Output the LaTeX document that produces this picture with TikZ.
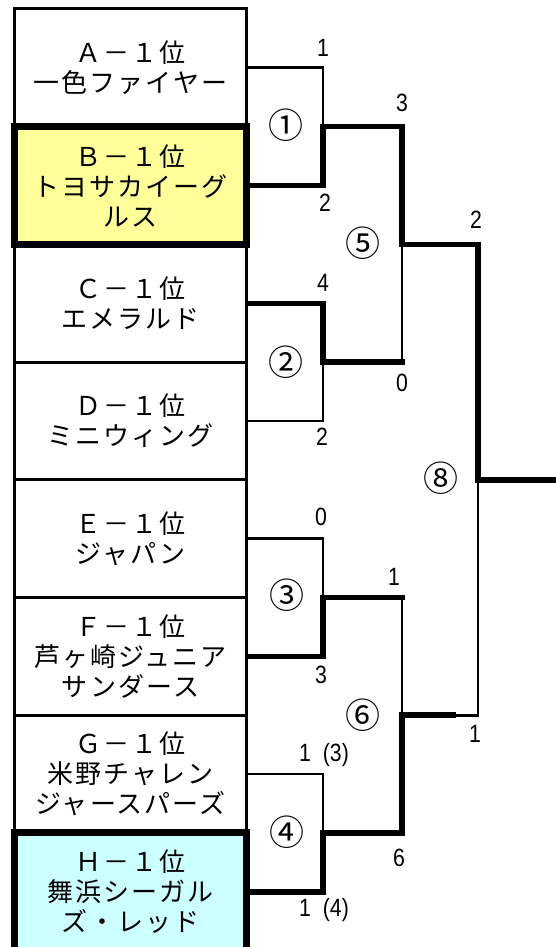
\documentclass[tikz,border=0pt]{standalone}
\usepackage{fontspec}
\setmainfont{Liberation Sans}
\newfontfamily\scorefont[FakeStretch=0.85]{Liberation Sans}
\newfontfamily\jp[LetterSpace=8]{Noto Sans CJK JP}
\newfontfamily\jpc{Noto Sans CJK JP}
\definecolor{byellow}{RGB}{255,255,153}
\definecolor{hcyan}{RGB}{204,255,255}
\begin{document}
\begin{tikzpicture}[x=1pt,y=-1pt,
  team/.style={draw,line width=3pt,minimum width=232pt,minimum height=117.7pt,inner sep=0pt,align=center,font=\jp\fontsize{26}{30}\selectfont},
  winner/.style={team,line width=7pt},
  thinln/.style={line width=2.7pt,line cap=rect},
  thickln/.style={line width=5.5pt,line cap=rect},
  score/.style={inner sep=0pt,font=\scorefont\fontsize{25}{25}\selectfont},
  mnum/.style={inner sep=0pt,font=\jpc\fontsize{35}{35}\selectfont}]
\clip (0,0) rectangle (556,947);
% team boxes
\node[team] (tA) at (130.5,67.85) {Ａ－１位\\一色ファイヤー};
\node[team] (tC) at (130.5,303.25) {Ｃ－１位\\エメラルド};
\node[team] (tD) at (130.5,420.95) {Ｄ－１位\\ミニウィング};
\node[team] (tE) at (130.5,538.65) {Ｅ－１位\\ジャパン};
\node[team] (tF) at (130.5,656.35) {Ｆ－１位\\芦ヶ崎ジュニア\\サンダース};
\node[team] (tG) at (130.5,774.05) {Ｇ－１位\\米野チャレン\\ジャースパーズ};
\node[winner,fill=byellow] (tB) at (130.5,185.55) {Ｂ－１位\\トヨサカイーグ\\ルス};
\node[winner,fill=hcyan] (tH) at (130.5,891.75) {Ｈ－１位\\舞浜シーガル\\ズ・レッド};
% match points
\coordinate (m1) at (323,126.7);
\coordinate (m2) at (323,362.1);
\coordinate (m3) at (323,597.5);
\coordinate (m4) at (323,832.9);
\coordinate (m5) at (402,244.4);
\coordinate (m6) at (402,715.2);
\coordinate (m7) at (478,479.8);
\coordinate (champ) at (556,479.8);
\coordinate (m6s) at (453,715.2);
% match 1
\draw[thinln] (tA.east) -| (m1);
\draw[thickln] (tB.east) -| (m1);
% match 2
\draw[thinln] (tD.east) -| (m2);
\draw[thickln] (tC.east) -| (m2);
% match 3
\draw[thinln] (tE.east) -| (m3);
\draw[thickln] (tF.east) -| (m3);
% match 4
\draw[thinln] (tG.east) -| (m4);
\draw[thickln] (tH.east) -| (m4);
% match 5
\draw[thinln] (m5) -- (m2 -| m5);
\draw[thickln] (m1) -| (m5);
\draw[thickln] (m2) -- (m2 -| m5);
% match 6
\draw[thinln] (m3 -| m6) -- (m6);
\draw[thickln] (m3) -- (m3 -| m6);
\draw[thickln] (m4) -| (m6);
% final
\draw[thinln] (m6s) -- (m6 -| m7) -- (m7);
\draw[thickln] (m6) -- (m6s);
\draw[thickln] (m5) -| (m7);
\draw[thickln] (m7) -- (champ);
% match numbers
\node[mnum] (c1) at (286,125) {①};
\node[mnum] (c2) at (286,362) {②};
\node[mnum] (c3) at (287,595) {③};
\node[mnum] (c4) at (287,832) {④};
\node[mnum] (c5) at (363,243) {⑤};
\node[mnum] (c6) at (363,715) {⑥};
\node[mnum] (c8) at (441,478) {⑧};
% scores
\node[score] (sA) at (323,48) {1};
\node[score] (sB) at (325,203) {2};
\node[score] (sC) at (323,283) {4};
\node[score] (sD) at (322,437) {2};
\node[score] (sE) at (321,517) {0};
\node[score] (sF) at (321,675) {3};
\node[score] (sG) at (324,755) {1\hspace{12pt}(3)};
\node[score] (sH) at (324,910) {1\hspace{12pt}(4)};
\node[score] (s5a) at (402,103) {3};
\node[score] (s5b) at (402,383) {0};
\node[score] (s6a) at (394,577) {1};
\node[score] (s6b) at (399,858) {6};
\node[score] (s8a) at (476,220) {2};
\node[score] (s8b) at (475,734) {1};
\end{tikzpicture}
\end{document}
